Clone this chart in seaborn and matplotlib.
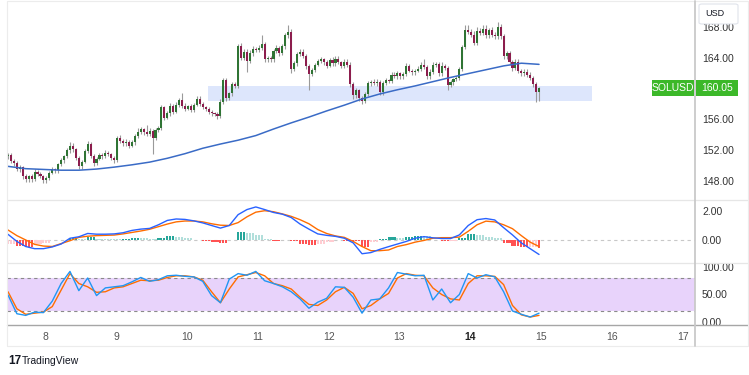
import numpy as np
import matplotlib
matplotlib.use("Agg")
import matplotlib.pyplot as plt
import seaborn as sns
from matplotlib.patches import Rectangle, FancyBboxPatch
from matplotlib.lines import Line2D

sns.set_theme(style="white")
plt.rcParams['font.family'] = ['Liberation Sans', 'DejaVu Sans']

# ---------------- data ----------------
start_day = 7.472          # time of first hourly candle (in days)
first_open = 151.2
closes = [151.4,150.6,150.3,149.5,149.8,148.6,148.2,148.6,148.3,149.2,
          148.9,148.6,148.1,148.4,149.1,149.5,149.4,150.2,150.7,151.2,
          152.0,152.6,152.1,151.0,149.9,150.5,151.9,152.8,151.3,150.4,
          150.9,151.4,151.2,151.7,151.5,151.0,150.7,153.6,153.2,152.9,
          153.1,152.6,153.0,153.8,154.4,154.7,154.3,154.1,154.5,153.6,
          154.6,154.9,157.6,156.2,156.8,157.8,157.0,157.9,158.5,157.8,
          157.4,157.7,157.2,157.9,158.7,158.0,157.6,157.3,157.0,156.8,
          156.7,156.5,158.3,161.1,158.8,159.4,160.6,160.4,165.5,164.0,
          164.8,163.6,164.6,165.2,165.0,165.3,165.8,163.8,164.0,163.8,
          164.9,165.3,164.6,165.5,166.9,167.3,162.6,163.3,164.5,164.8,
          164.3,162.9,161.9,162.4,163.1,163.6,163.8,163.4,163.0,163.7,
          163.3,163.9,163.4,163.0,163.5,163.1,160.6,159.2,159.8,158.8,
          158.4,159.3,160.7,160.9,160.7,160.9,159.5,160.7,161.1,161.0,
          161.8,161.6,162.0,161.6,161.9,162.9,162.3,162.1,162.3,162.6,
          163.1,162.8,161.6,162.2,163.1,163.2,162.0,162.9,162.7,160.5,
          160.8,161.2,161.4,162.6,165.4,167.6,167.4,167.0,165.9,167.5,
          167.2,167.7,166.9,167.6,167.0,166.8,168.0,166.8,164.2,164.6,
          163.4,162.7,163.5,162.3,162.0,162.2,161.8,161.4,160.6,159.5,
          160.05]
up_wick = [0.3,0.3,0.2,0.3,0.3,0.2,0.3,0.2,0.3,0.3,
           0.2,0.3,0.2,0.3,0.2,0.3,0.2,0.2,0.3,0.2,
           0.3,0.5,0.3,0.2,0.3,0.2,0.2,0.4,0.3,0.2,
           0.2,0.3,0.2,0.3,0.2,0.2,0.3,0.3,0.4,0.2,
           0.3,0.2,0.3,0.3,0.5,0.3,0.2,1.0,0.4,0.3,
           0.3,0.3,0.3,0.2,0.3,0.3,0.2,0.3,0.3,0.9,
           0.3,0.2,0.3,0.2,0.3,0.3,0.2,0.2,0.3,0.2,
           0.2,0.3,0.3,0.3,0.3,0.2,0.3,0.3,0.3,0.4,
           0.3,0.3,0.4,0.3,0.2,0.3,1.2,0.3,0.3,0.2,
           0.3,0.3,0.2,0.3,0.3,1.0,0.4,0.3,0.3,0.4,
           0.3,0.2,0.3,0.3,0.2,0.3,0.3,0.2,0.3,0.3,
           0.4,0.3,0.3,0.2,0.3,0.3,0.3,0.3,0.3,0.2,
           0.3,0.3,0.3,0.2,0.3,0.3,0.2,0.3,0.3,0.2,
           0.3,0.3,0.3,0.2,0.3,0.4,0.3,0.2,0.3,0.3,
           0.3,0.8,0.3,0.3,0.3,0.3,0.3,0.5,0.3,0.3,
           0.3,0.2,0.3,0.2,0.3,0.7,0.6,0.4,0.5,0.5,
           0.4,0.5,0.5,0.3,0.4,0.3,0.6,0.4,0.3,0.3,
           0.3,0.3,0.3,0.3,0.3,0.3,0.3,0.4,0.3,0.3,
           0.1]
down_wick = [0.3,0.3,0.3,0.2,0.3,0.4,0.3,0.3,0.4,0.3,
             0.3,0.2,0.3,0.3,0.3,0.2,0.3,0.3,0.2,0.3,
             0.2,0.3,0.3,0.3,0.4,0.3,0.2,0.3,0.3,0.4,
             0.3,0.2,0.3,0.2,0.3,0.3,0.3,0.2,0.3,0.3,
             0.3,0.3,0.2,0.3,0.2,0.3,0.3,0.3,0.3,2.1,
             0.3,0.2,0.3,0.3,0.2,0.3,0.3,0.2,0.3,0.3,
             0.3,0.2,0.3,0.3,0.2,0.3,0.3,0.2,0.3,0.3,
             0.2,0.5,0.3,0.3,0.4,0.3,0.3,0.3,0.3,0.3,
             0.3,1.5,0.3,0.3,0.3,0.2,0.3,0.3,0.3,0.3,
             0.3,0.3,0.3,0.2,0.3,0.3,0.6,0.3,0.3,0.2,
             0.3,0.3,2.1,0.3,0.3,0.2,0.3,0.3,0.3,0.2,
             0.3,0.3,0.2,0.3,0.3,0.3,0.4,0.5,0.4,0.4,
             0.4,0.3,0.3,0.3,0.2,0.3,0.3,0.3,0.2,0.3,
             0.3,0.2,0.3,0.3,0.3,0.3,0.2,0.3,0.3,0.2,
             0.3,0.3,0.4,0.3,0.3,0.3,0.3,0.3,0.3,0.7,
             0.3,0.3,0.2,0.3,0.3,0.3,0.3,0.3,0.3,0.3,
             0.3,0.3,0.3,0.3,0.3,0.3,0.3,0.3,0.4,0.3,
             0.3,0.4,0.3,0.3,0.3,0.3,0.3,0.3,0.4,1.2,
             1.1]

# moving average, one value every 6 candles
ma_values = [149.9,149.6,149.5,149.4,149.4,149.55,149.8,150.1,150.45,150.95,
             151.55,152.25,152.8,153.3,153.9,154.75,155.55,156.3,157.1,157.85,
             158.65,159.3,159.85,160.35,160.9,161.45,161.95,162.45,162.95,163.3,
             163.15]
# indicators, one value every 3 candles
macd_line = [0.39,-0.1,-0.45,-0.6,-0.6,-0.48,-0.28,0.12,0.22,0.45,
             0.4,0.4,0.42,0.5,0.66,0.75,0.8,1.05,1.35,1.45,
             1.42,1.32,1.18,1.0,0.82,1.0,1.75,2.1,2.28,2.1,
             1.9,1.78,1.55,1.1,0.75,0.42,0.32,0.25,0.12,-0.2,
             -0.95,-0.87,-0.65,-0.46,-0.28,-0.1,0.12,0.23,0.15,0.1,
             0.1,0.35,1.0,1.4,1.48,1.38,0.85,0.35,-0.2,-0.6,
             -1.0]
signal_line = [0.69,0.3,0.0,-0.3,-0.42,-0.45,-0.25,-0.05,0.18,0.26,
               0.3,0.32,0.34,0.42,0.52,0.62,0.74,0.92,1.1,1.25,
               1.31,1.31,1.25,1.12,1.02,1.0,1.2,1.6,1.92,2.02,
               1.95,1.8,1.63,1.4,1.12,0.72,0.45,0.28,0.18,-0.1,
               -0.45,-0.74,-0.74,-0.69,-0.45,-0.32,-0.15,-0.03,0.12,0.16,
               0.16,0.2,0.6,1.05,1.3,1.25,1.05,0.78,0.3,-0.15,
               -0.45]
stoch_k = [49,15,12,18,17,38,70,92,57,80,
           48,62,64,66,73,81,74,77,84,85,
           83,82,74,48,35,78,88,85,92,75,
           70,64,55,42,25,36,43,64,63,45,
           16,40,42,62,90,87,84,85,40,60,
           35,50,88,80,86,82,55,20,14,9,
           16]
stoch_d = [55,24,14,16,18,28,58,88,70,64,
           54,55,62,64,70,76,75,76,81,84,
           84,82,76,55,35,60,82,86,90,84,
           70,66,60,45,32,30,40,55,63,52,
           24,30,42,52,80,88,85,84,62,50,
           42,40,70,84,84,83,68,30,13,9,
           12]

day_ticks = [8, 9, 10, 11, 12, 13, 14, 15, 16, 17]
price_ticks = [148, 152, 156, 164, 168]
macd_ticks = [0, 2]
stoch_ticks = [0, 50, 100]
zone_low, zone_high = 158.4, 160.3
zone_start, zone_end = 10.297, 15.72
symbol = "SOLUSD"
last_price = 160.05

# ---------------- derived ----------------
n = len(closes)
c = np.array(closes)
o = np.r_[first_open, c[:-1]]
t = start_day + np.arange(n) / 24.0
hi = np.maximum(o, c) + np.array(up_wick)
lo = np.minimum(o, c) - np.array(down_wick)
t_ma = t[::6]
t_ind = t[::3]
hist = np.array(macd_line) - np.array(signal_line)
prev = np.r_[hist[0], hist[:-1]]
hist_col = np.where(hist >= 0,
                    np.where(hist >= prev, '#26a69a', '#b2dfdb'),
                    np.where(hist < prev, '#ff5252', '#ffcdd2'))
# one histogram bar per candle (each indicator sample covers 3 candles)
hist_c = np.repeat(hist, 3)[:n]
hist_col_c = np.repeat(hist_col, 3)[:n]

# ---------------- figure ----------------
W, H = 749, 375
fig = plt.figure(figsize=(W / 100, H / 100), dpi=100)
fig.patch.set_facecolor('white')

def rect(x0, y0, x1, y1):
    return [x0 / W, 1 - y1 / H, (x1 - x0) / W, (y1 - y0) / H]

ax_p = fig.add_axes(rect(7, 2, 695, 199))
ax_m = fig.add_axes(rect(7, 200, 695, 262))
ax_s = fig.add_axes(rect(7, 263, 695, 325))
XL = (7.4576, 17.175)
lab_col = '#333333'
for ax in (ax_p, ax_m, ax_s):
    ax.set_facecolor('white')
    for sp in ax.spines.values():
        sp.set_visible(False)
    ax.set_xlim(*XL)
    ax.grid(False)
    ax.yaxis.tick_right()
    ax.tick_params(axis='y', length=0, pad=5, labelsize=7.5, labelcolor=lab_col)
    ax.set_xticks([])

# ---- price panel ----
ax_p.set_ylim(145.66, 171.25)
ax_p.add_patch(Rectangle((zone_start, zone_low), zone_end - zone_start,
                         zone_high - zone_low, facecolor='#dde6fc',
                         edgecolor='none', zorder=0))
ax_p.vlines(t, lo, hi, colors='#9a9a9a', linewidth=0.8, zorder=2)
up = c >= o
body = np.where(np.abs(c - o) < 0.08, 0.08, c - o)
ax_p.bar(t, body, bottom=o, width=0.03,
         color=np.where(up, '#2f7434', '#8c1d4d'), linewidth=0, zorder=3)
sns.lineplot(x=t_ma, y=ma_values, ax=ax_p, color='#3a6bc6', linewidth=1.1,
             estimator=None, legend=False, zorder=4)
ax_p.set_yticks(price_ticks)
ax_p.set_yticklabels([f"{v:.2f}" for v in price_ticks])
ax_p.set_xlabel(''); ax_p.set_ylabel('')

# ---- MACD panel ----
ax_m.set_ylim(-1.52, 2.76)
ax_m.axhline(0, color='#c8c8c8', linewidth=0.8, linestyle=(0, (3, 3)), zorder=1)
ax_m.bar(t, hist_c, width=0.03, color=hist_col_c, linewidth=0, zorder=2)
sns.lineplot(x=t_ind, y=macd_line, ax=ax_m, color='#2962ff', linewidth=1.0,
             estimator=None, legend=False, zorder=4)
sns.lineplot(x=t_ind, y=signal_line, ax=ax_m, color='#ff6d00', linewidth=1.0,
             estimator=None, legend=False, zorder=3)
ax_m.set_yticks(macd_ticks)
ax_m.set_yticklabels([f"{v:.2f}" for v in macd_ticks])
ax_m.set_xlabel(''); ax_m.set_ylabel('')

# ---- Stochastic panel ----
ax_s.set_ylim(-5.5, 107.3)
ax_s.axhspan(20, 80, color='#e8d3fb', zorder=0, linewidth=0)
for lv in (20, 80):
    ax_s.axhline(lv, color='#8a8a8a', linewidth=0.8, linestyle=(0, (3, 3)), zorder=1)
sns.lineplot(x=t_ind, y=stoch_k, ax=ax_s, color='#2196f3', linewidth=1.0,
             estimator=None, legend=False, zorder=4)
sns.lineplot(x=t_ind, y=stoch_d, ax=ax_s, color='#ff6d00', linewidth=1.0,
             estimator=None, legend=False, zorder=3)
ax_s.set_yticks(stoch_ticks)
ax_s.set_yticklabels([f"{v:.2f}" for v in stoch_ticks])
ax_s.set_xticks(day_ticks)
ax_s.set_xticklabels([str(d) for d in day_ticks])
ax_s.tick_params(axis='x', length=0, pad=5, labelsize=7.5, labelcolor='#555555')
for lbl in ax_s.get_xticklabels():
    if lbl.get_text() == '14':
        lbl.set_fontweight('bold')
        lbl.set_color('#222222')
ax_s.set_xlabel(''); ax_s.set_ylabel('')

# ---------------- chrome ----------------
def hline(y, x0, x1, color, lw):
    fig.add_artist(Line2D([x0 / W, x1 / W], [1 - y / H, 1 - y / H],
                          transform=fig.transFigure, color=color, linewidth=lw, zorder=5))

def vline(x, y0, y1, color, lw):
    fig.add_artist(Line2D([x / W, x / W], [1 - y0 / H, 1 - y1 / H],
                          transform=fig.transFigure, color=color, linewidth=lw, zorder=5))

hline(1, 7, 748, '#ececec', 0.8)
hline(200, 7, 748, '#e6e6e6', 0.9)
hline(262.5, 7, 748, '#e6e6e6', 0.9)
hline(325, 7, 748, '#a6a6a6', 1.0)
hline(346, 7, 748, '#ececec', 0.8)
vline(7, 1, 346, '#ececec', 0.8)
vline(748, 1, 346, '#ececec', 0.8)
vline(695, 1, 346, '#c9c9c9', 1.3)

# USD box (partly covering the top price label, as in the reference)
fig.add_artist(FancyBboxPatch((699 / W, 1 - 24 / H), 39 / W, 20 / H,
                              boxstyle="round,pad=0,rounding_size=0.004",
                              transform=fig.transFigure, facecolor='white',
                              edgecolor='#e0e3eb', linewidth=0.8, zorder=6))
fig.text(705 / W, 1 - 13 / H, "USD", fontsize=6.5, color='#131722',
         va='center', ha='left', zorder=7)

# last price labels
green = '#3cb829'
fig.add_artist(Rectangle((652 / W, 1 - 96 / H), 42 / W, 16 / H,
                         transform=fig.transFigure, facecolor=green,
                         edgecolor='none', zorder=6))
fig.add_artist(Rectangle((696 / W, 1 - 96 / H), 42 / W, 16 / H,
                         transform=fig.transFigure, facecolor=green,
                         edgecolor='none', zorder=6))
fig.text(673 / W, 1 - 88 / H, symbol, fontsize=7.5, color='white',
         va='center', ha='center', zorder=7)
fig.text(717 / W, 1 - 88 / H, f"{last_price:.2f}", fontsize=7.5, color='white',
         va='center', ha='center', zorder=7)

# TradingView logo
fig.text(8 / W, 1 - 361 / H, "17", fontsize=8.5, fontweight='bold',
         color='#131722', va='center', ha='left')
fig.text(22 / W, 1 - 361 / H, "TradingView", fontsize=7.5,
         color='#131722', va='center', ha='left')

fig.savefig("out.png", dpi=100, facecolor='white')
